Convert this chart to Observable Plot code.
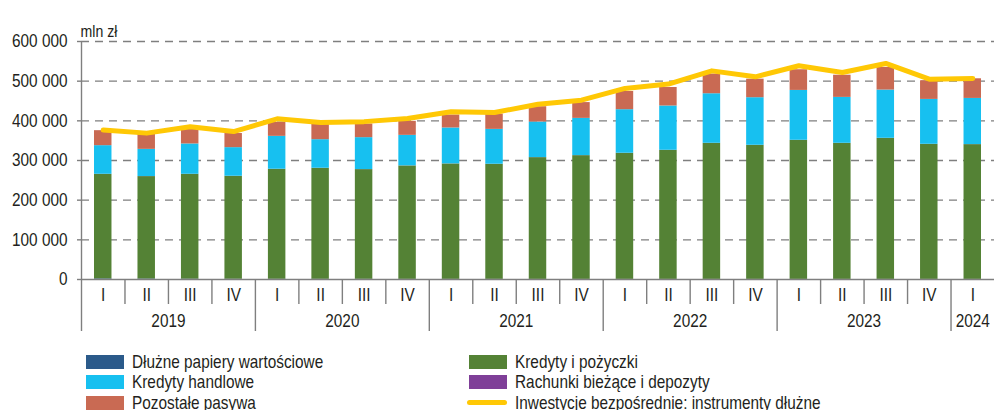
<!DOCTYPE html>
<html><head><meta charset="utf-8">
<script src="https://cdn.jsdelivr.net/npm/d3@7"></script>
<script src="https://cdn.jsdelivr.net/npm/@observablehq/plot@0.6"></script>
<style>
body{margin:0;background:#fff;}
#wrap{position:relative;width:994px;height:410px;overflow:hidden;font-family:"Liberation Sans",Arial,sans-serif;color:#231f20;}
#legend{display:grid;grid-template-columns:383px 420px;grid-auto-rows:20.5px;padding-left:86px;padding-top:6.5px;font-size:18.5px;}
.item{display:flex;align-items:center;white-space:nowrap;}
.sw{display:inline-block;width:38px;height:14px;margin-right:8px;flex:none;}
.ln{display:inline-block;width:40px;height:5px;border-radius:3px;margin-left:-2px;margin-right:8px;flex:none;}
.tx{display:inline-block;transform:scaleX(0.83);transform-origin:left center;}
</style></head><body><div id="wrap"><div id="chart"></div><div id="legend"></div></div>
<script>
const years = ["2019","2020","2021","2022","2023","2024"];
const quarterLabels = ["I","II","III","IV"];
const periods = ["2019 I","2019 II","2019 III","2019 IV","2020 I","2020 II","2020 III","2020 IV","2021 I","2021 II","2021 III","2021 IV","2022 I","2022 II","2022 III","2022 IV","2023 I","2023 II","2023 III","2023 IV","2024 I"];

const dluzne = [1500,1200,800,700,600,500,500,400,400,400,300,300,300,300,300,300,300,300,300,300,300];
const kredytyPozyczki = [263600,258200,264300,259400,277200,279800,276500,285900,290900,290000,306900,311900,317800,325300,342900,337900,350500,342900,355500,340400,339700];
const rachunki = [200,200,200,200,200,200,200,200,200,200,200,200,200,200,200,200,200,200,200,200,200];
const kredytyHandlowe = [72100,68500,76400,72100,82900,72000,80400,76900,90500,87900,89600,93800,109800,111600,124900,119900,125700,115700,121600,113100,116300];
const pozostale = [37800,38900,37300,35600,35100,39500,34400,35300,32700,38500,38600,39800,45900,46600,49700,46700,52100,55900,57000,47000,49500];
const inwestycje = [376900,369000,385000,373000,405000,396000,398000,406000,423000,421000,442000,452000,481700,492700,526000,511000,538900,522000,544600,505000,507000];

const yTicks = [0,100000,200000,300000,400000,500000,600000];

const series = [
  {name:"Dłużne papiery wartościowe", values:dluzne, color:"#2b5a8a"},
  {name:"Kredyty i pożyczki", values:kredytyPozyczki, color:"#548235"},
  {name:"Rachunki bieżące i depozyty", values:rachunki, color:"#7f3f98"},
  {name:"Kredyty handlowe", values:kredytyHandlowe, color:"#17c0f0"},
  {name:"Pozostałe pasywa", values:pozostale, color:"#c96a53"}
];
const lineName = "Inwestycje bezpośrednie: instrumenty dłużne";
const lineColor = "#ffc805";

const rows = [];
periods.forEach((p,i)=>series.forEach(s=>rows.push({i, period:p, series:s.name, value:s.values[i]})));
const lineData = inwestycje.map((v,i)=>({c:i+0.5, v}));

const n = periods.length;
const quarterOf = periods.map(p=>p.split(" ")[1]);
const yearOf = periods.map(p=>p.split(" ")[0]);
const yearStarts = d3.range(n).filter(i=>i===0||yearOf[i]!==yearOf[i-1]);
const innerSeps = d3.range(1,n).filter(i=>!yearStarts.includes(i));
const quarterCenters = d3.range(n).map(i=>i+0.5);
const yearCenters = years.map(y=>{const idx=d3.range(n).filter(i=>yearOf[i]===y);return (idx[0]+idx[idx.length-1]+1)/2;});

const fmt = d3.formatLocale({thousands:"\u00a0",grouping:[3],decimal:","}).format(",d");
const font = '"Liberation Sans",Arial,sans-serif';
const gray = "#7f7f7f";
const H = 345;

const plot = Plot.plot({
  width:994, height:H,
  marginLeft:81, marginRight:0, marginTop:41, marginBottom:H-279,
  style:{fontFamily:font, fontSize:"18.5px", color:"#231f20", background:"white", overflow:"visible"},
  x:{type:"linear", domain:[0,n]},
  y:{domain:[0,600000]},
  color:{domain:series.map(s=>s.name), range:series.map(s=>s.color)},
  marks:[
    Plot.gridY({ticks:yTicks.filter(v=>v>0), stroke:gray, strokeOpacity:1, strokeWidth:1.4, strokeDasharray:"8,6"}),
    Plot.axisY({ticks:yTicks, tickSize:4, tickPadding:10, tickFormat:fmt, label:null, stroke:gray, strokeWidth:1.4}),
    Plot.rectY(rows, {x:"i", interval:1, y:"value", fill:"series", order:series.map(s=>s.name), insetLeft:13, insetRight:13}),
    Plot.ruleX([0], {stroke:gray, strokeWidth:1.4}),
    Plot.ruleY([0], {stroke:gray, strokeWidth:1.4}),
    Plot.line(lineData, {x:"c", y:"v", stroke:lineColor, strokeWidth:5, strokeLinejoin:"round", strokeLinecap:"round"}),
    Plot.axisX({ticks:innerSeps, tickSize:25, tickFormat:()=>"", label:null, stroke:gray, strokeWidth:1.4}),
    Plot.axisX({ticks:yearStarts, tickSize:52, tickFormat:()=>"", label:null, stroke:gray, strokeWidth:1.4}),
    Plot.axisX({ticks:quarterCenters, tickSize:0, tickPadding:8, tickFormat:v=>quarterOf[Math.floor(v)], label:null}),
    Plot.axisX({ticks:yearCenters, tickSize:0, tickPadding:34, tickFormat:v=>yearOf[Math.floor(v)], label:null}),
    Plot.text(["mln zł"], {frameAnchor:"top-left", dy:-17, dx:-1, textAnchor:"start", fontSize:17, fill:"#231f20"})
  ]
});
document.getElementById("chart").appendChild(plot);
// narrow the Arial-metric font to mimic Arial Narrow
plot.querySelectorAll("text").forEach(t=>{
  const L = t.getComputedTextLength();
  if (L > 0) { t.setAttribute("textLength", (L*0.83).toFixed(2)); t.setAttribute("lengthAdjust","spacingAndGlyphs"); }
});

const legendItems = [
  {name:series[0].name, color:series[0].color, type:"rect"},
  {name:series[1].name, color:series[1].color, type:"rect"},
  {name:series[3].name, color:series[3].color, type:"rect"},
  {name:series[2].name, color:series[2].color, type:"rect"},
  {name:series[4].name, color:series[4].color, type:"rect"},
  {name:lineName, color:lineColor, type:"line"}
];
const leg = document.getElementById("legend");
legendItems.forEach(it=>{
  const d = document.createElement("div"); d.className="item";
  const s = document.createElement("span"); s.className = it.type==="line"?"ln":"sw"; s.style.background = it.color;
  const t = document.createElement("span"); t.className="tx"; t.textContent = it.name;
  d.appendChild(s); d.appendChild(t);
  leg.appendChild(d);
});
</script></body></html>
